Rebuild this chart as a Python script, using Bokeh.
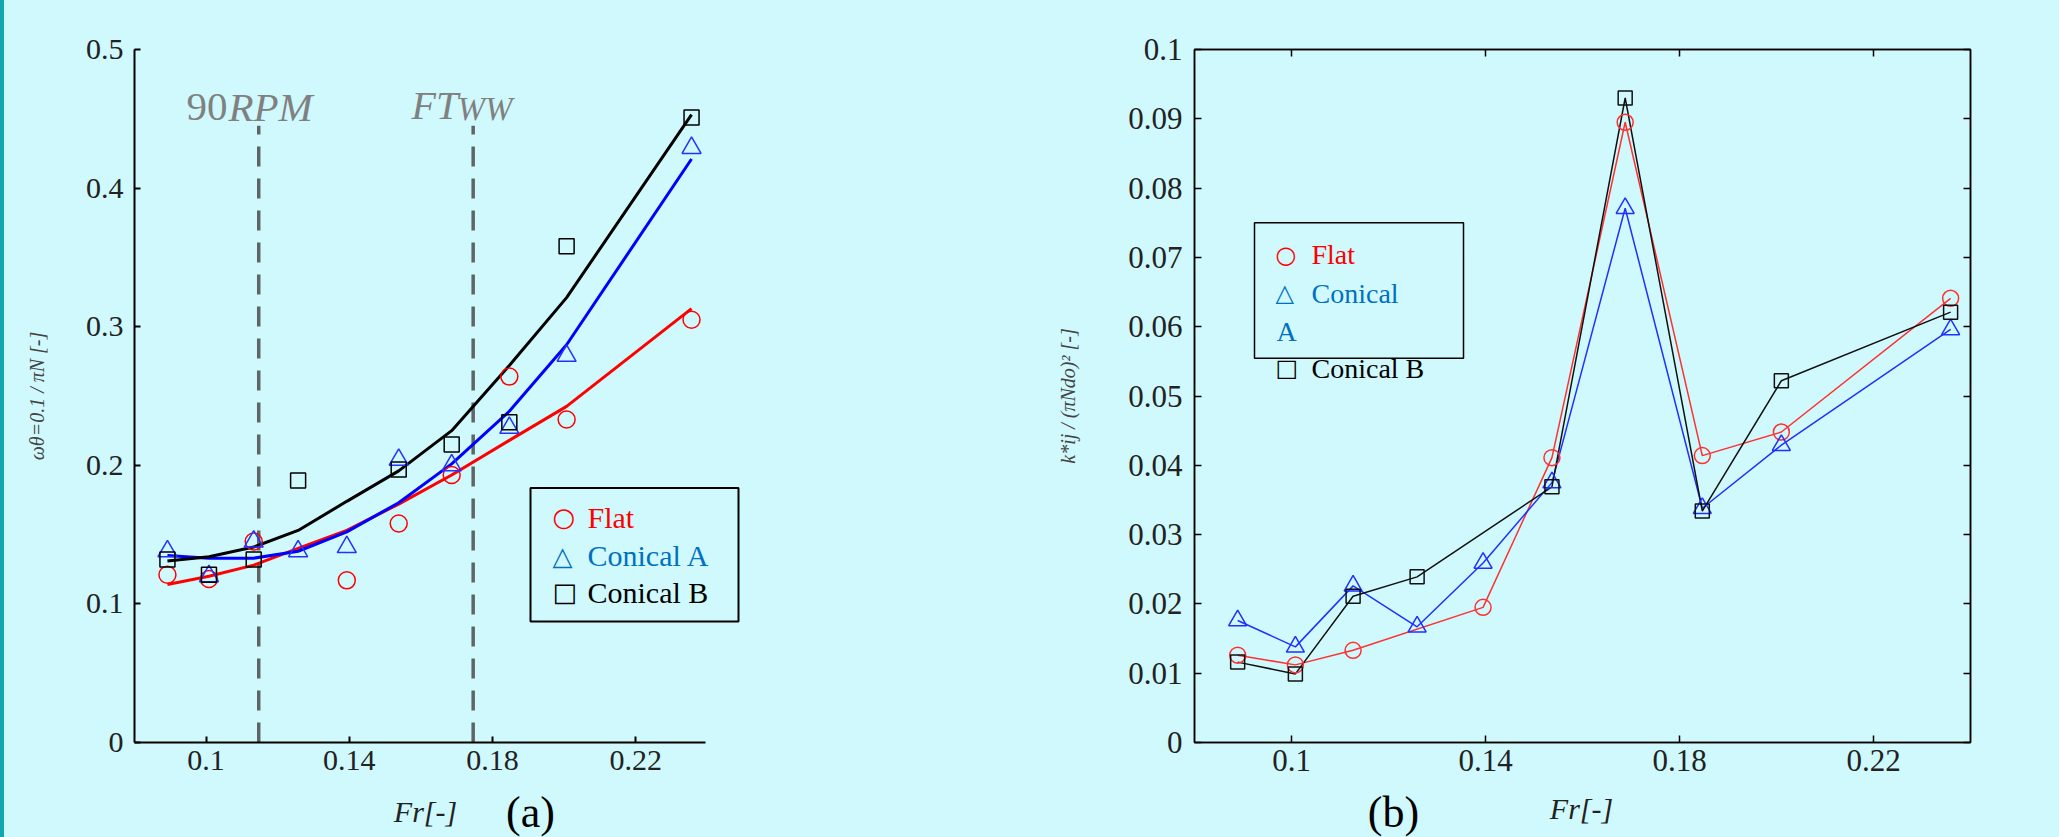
from bokeh.plotting import figure
from bokeh.models import (Range1d, FixedTicker, NumeralTickFormatter, LinearAxis,
                          Label, BoxAnnotation, Spacer, CustomJSTickFormatter)
from bokeh.layouts import row, column
from bokeh.embed import file_html
from bokeh.resources import INLINE

# ---------------- data ----------------
# panel (a): omega_theta=0.1 / (pi N) versus Froude number
fr_flat_a = [0.0892, 0.1008, 0.1133, 0.1393, 0.1538, 0.1686, 0.1847, 0.2007, 0.2356]
val_flat_a = [0.121, 0.118, 0.145, 0.117, 0.158, 0.193, 0.264, 0.233, 0.305]
fr_conA_a = [0.0892, 0.1008, 0.1133, 0.1257, 0.1393, 0.1538, 0.1686, 0.1847, 0.2007, 0.2356]
val_conA_a = [0.138, 0.120, 0.145, 0.138, 0.141, 0.204, 0.200, 0.227, 0.279, 0.429]
fr_conB_a = [0.0892, 0.1008, 0.1133, 0.1257, 0.1538, 0.1686, 0.1847, 0.2007, 0.2356]
val_conB_a = [0.132, 0.121, 0.132, 0.189, 0.197, 0.215, 0.231, 0.358, 0.451]
# fitted trend curves
fr_fit = [0.0892, 0.1008, 0.1133, 0.1257, 0.1393, 0.1538, 0.1686, 0.1847, 0.2007, 0.2356]
fit_flat = [0.114, 0.120, 0.128, 0.140, 0.153, 0.172, 0.193, 0.218, 0.2425, 0.313]
fit_conA = [0.135, 0.133, 0.133, 0.138, 0.152, 0.173, 0.201, 0.239, 0.287, 0.421]
fit_conB = [0.131, 0.134, 0.141, 0.153, 0.174, 0.196, 0.225, 0.272, 0.321, 0.453]
threshold_fr = [0.1147, 0.1746]
threshold_top = [0.445, 0.445]

# panel (b): k*_ij / (pi N d_o)^2 versus Froude number
fr_flat_b = [0.0889, 0.1008, 0.1127, 0.1395, 0.1537, 0.1688, 0.1847, 0.2010, 0.2359]
k_flat_b = [0.0126, 0.0112, 0.0133, 0.0195, 0.0411, 0.0895, 0.0414, 0.0448, 0.0641]
fr_conA_b = [0.0889, 0.1008, 0.1127, 0.1259, 0.1395, 0.1537, 0.1688, 0.1847, 0.2010, 0.2359]
k_conA_b = [0.0176, 0.0138, 0.0226, 0.0167, 0.0259, 0.0375, 0.0771, 0.0338, 0.0429, 0.0596]
fr_conB_b = [0.0889, 0.1008, 0.1127, 0.1259, 0.1537, 0.1688, 0.1847, 0.2010, 0.2359]
k_conB_b = [0.0116, 0.0099, 0.0211, 0.0239, 0.0369, 0.0930, 0.0334, 0.0522, 0.0621]

x_ticks = [0.1, 0.14, 0.18, 0.22]
y_ticks_a = [0, 0.1, 0.2, 0.3, 0.4, 0.5]
y_ticks_b = [0, 0.01, 0.02, 0.03, 0.04, 0.05, 0.06, 0.07, 0.08, 0.09, 0.1]

# ---------------- style ----------------
BG = "#D0F9FD"
STRIP = "#12A6B2"
SERIF = "Liberation Serif"
RED = "#FF0000"
BLUE = "#0000FF"
LEG_BLUE = "#0070C0"
GREY_TXT = "#808080"
H = 837
TOP_H = 787          # height of the two chart rows; below it a caption strip
CAP_H = H - TOP_H

# pixel -> data helpers for annotation placement (page pixels)
LW, L_LEFT, L_TOP = 996, 130, 37
L_PXU = 3580.0
def lx(px):
    return 0.08 + (px - 134) / L_PXU
def ly(py):
    return (742 - py) / 1410.0

RW, R_LEFT, R_FW, R_TOP = 1059, 194, 776, 49
R_PXU = R_FW / 0.16
def rx(px):
    return 0.08 + (px - 1194) / R_PXU
def ry(py):
    return (745 - py) / (696 / 0.1)

# ---------------- panel (a) ----------------
frame_w_a = LW - L_LEFT - 10
p1 = figure(width=LW, height=TOP_H, output_backend="svg", toolbar_location=None,
            x_range=Range1d(0.08, 0.08 + frame_w_a / L_PXU), y_range=Range1d(0, 0.5),
            min_border_left=L_LEFT, min_border_right=10, min_border_top=L_TOP,
            min_border_bottom=TOP_H - 742, background_fill_color=None, border_fill_color=BG,
            outline_line_color=None)
p1.grid.visible = False
for ax in (p1.xaxis[0], p1.yaxis[0]):
    ax.major_tick_in = 6
    ax.major_tick_out = 0
    ax.minor_tick_line_color = None
    ax.axis_line_width = 2
    ax.major_tick_line_width = 2
    ax.major_label_text_font = SERIF
    ax.major_label_text_font_size = "30px"
    ax.major_label_text_color = "#222222"
    ax.formatter = NumeralTickFormatter(format="0.[00]")
p1.xaxis.ticker = FixedTicker(ticks=x_ticks)
p1.xaxis.bounds = (0.08, 0.2396)
p1.xaxis.major_label_standoff = 8
p1.yaxis.ticker = FixedTicker(ticks=y_ticks_a)
p1.yaxis.major_label_standoff = 11
p1.yaxis.axis_label = "ωθ=0.1 / πN [-]"
p1.yaxis.axis_label_text_font = SERIF
p1.yaxis.axis_label_text_font_style = "italic"
p1.yaxis.axis_label_text_font_size = "20px"
p1.yaxis.axis_label_standoff = 35

# thresholds
p1.segment(x0=threshold_fr, y0=[0, 0], x1=threshold_fr, y1=threshold_top,
           line_color="#5F6464", line_width=3.5, line_dash="20 12")

# fits
p1.line(fr_fit, fit_flat, line_color=RED, line_width=3)
p1.line(fr_fit, fit_conA, line_color=BLUE, line_width=3)
p1.line(fr_fit, fit_conB, line_color="black", line_width=3)
# markers
p1.scatter(fr_flat_a, val_flat_a, marker="circle", size=17, fill_color=None,
           line_color=RED, line_width=1.5)
p1.scatter(fr_conA_a, val_conA_a, marker="triangle", size=19, fill_color=None,
           line_color="#2233FF", line_width=1.5)
p1.scatter(fr_conB_a, val_conB_a, marker="square", size=15, fill_color=None,
           line_color="black", line_width=1.5)

# threshold labels
p1.add_layout(Label(x=lx(186), y=ly(95), text="90", text_font=SERIF,
                    text_font_size="41px", text_color=GREY_TXT,
                    text_align="left", text_baseline="alphabetic"))
p1.add_layout(Label(x=lx(228), y=ly(95), text="RPM", text_font=SERIF,
                    text_font_style="italic", text_font_size="41px", text_color=GREY_TXT,
                    text_align="left", text_baseline="alphabetic"))
p1.add_layout(Label(x=lx(411), y=ly(94), text="FT", text_font=SERIF,
                    text_font_style="italic", text_font_size="40px", text_color=GREY_TXT,
                    text_align="left", text_baseline="alphabetic"))
p1.add_layout(Label(x=lx(457), y=ly(98), text="WW", text_font=SERIF,
                    text_font_style="italic", text_font_size="33px", text_color=GREY_TXT,
                    text_align="left", text_baseline="alphabetic"))

# legend (a)
p1.add_layout(BoxAnnotation(left=lx(530), right=lx(738), top=ly(483), bottom=ly(619),
                            fill_color=None, fill_alpha=0, line_color="black",
                            line_alpha=1, line_width=2))
leg_a = [("○", "Flat", RED, 513), ("△", "Conical A", LEG_BLUE, 552), ("□", "Conical B", "black", 589)]
for sym, txt, col, yy in leg_a:
    p1.add_layout(Label(x=lx(552), y=ly(yy), text=sym, text_font="DejaVu Sans",
                        text_font_size="26px", text_color=col, text_baseline="middle"))
    p1.add_layout(Label(x=lx(587), y=ly(yy), text=txt, text_font=SERIF,
                        text_font_size="30px", text_color=col, text_baseline="middle"))

# ---------------- panel (b) ----------------
p2 = figure(width=RW, height=TOP_H, output_backend="svg", toolbar_location=None,
            x_range=Range1d(0.08, 0.24), y_range=Range1d(0, 0.1),
            min_border_left=R_LEFT, min_border_right=RW - R_LEFT - R_FW,
            min_border_top=R_TOP, min_border_bottom=TOP_H - 745,
            background_fill_color=None, border_fill_color=BG,
            outline_line_color="black", outline_line_width=1.5)
p2.grid.visible = False
p2.add_layout(LinearAxis(), "above")
p2.add_layout(LinearAxis(), "right")
for ax in p2.axis:
    ax.major_tick_in = 7
    ax.major_tick_out = 0
    ax.minor_tick_line_color = None
    ax.axis_line_width = 1.5
    ax.major_tick_line_width = 1.5
    ax.major_label_text_font = SERIF
    ax.major_label_text_font_size = "31px"
    ax.major_label_text_color = "#222222"
for ax in (p2.above[0], p2.below[0]):
    ax.ticker = FixedTicker(ticks=x_ticks)
for ax in (p2.left[0], p2.right[0]):
    ax.ticker = FixedTicker(ticks=y_ticks_b)
p2.below[0].formatter = NumeralTickFormatter(format="0.[00]")
p2.left[0].formatter = NumeralTickFormatter(format="0.[00]")
p2.above[0].formatter = CustomJSTickFormatter(code="return ''")
p2.right[0].formatter = CustomJSTickFormatter(code="return ''")
p2.above[0].major_label_standoff = 0
p2.right[0].major_label_standoff = 0
p2.below[0].major_label_standoff = 7
p2.left[0].major_label_standoff = 12
p2.left[0].axis_label = "k*ij / (πNdo)² [-]"
p2.left[0].axis_label_text_font = SERIF
p2.left[0].axis_label_text_font_style = "italic"
p2.left[0].axis_label_text_font_size = "20px"
p2.left[0].axis_label_standoff = 46

p2.line(fr_flat_b, k_flat_b, line_color="#FF3030", line_width=1.5)
p2.line(fr_conA_b, k_conA_b, line_color="#2030FF", line_width=1.5)
p2.line(fr_conB_b, k_conB_b, line_color="#111111", line_width=1.5)
p2.scatter(fr_flat_b, k_flat_b, marker="circle", size=16, fill_color=None,
           line_color="#FF3030", line_width=1.5)
p2.scatter(fr_conA_b, k_conA_b, marker="triangle", size=18, fill_color=None,
           line_color="#2030FF", line_width=1.5)
p2.scatter(fr_conB_b, k_conB_b, marker="square", size=14, fill_color=None,
           line_color="#111111", line_width=1.5)

# legend (b)
p2.add_layout(BoxAnnotation(left=rx(1254), right=rx(1463), top=ry(223), bottom=ry(359),
                            fill_color=None, fill_alpha=0, line_color="black",
                            line_alpha=1, line_width=1.5))
leg_b = [("○", "Flat", RED, 255), ("△", "Conical", LEG_BLUE, 294), ("□", "Conical B", "black", 369)]
for sym, txt, col, yy in leg_b:
    p2.add_layout(Label(x=rx(1275), y=ry(yy), text=sym, text_font="DejaVu Sans",
                        text_font_size="24px", text_color=col, text_baseline="middle"))
    p2.add_layout(Label(x=rx(1311), y=ry(yy), text=txt, text_font=SERIF,
                        text_font_size="28px", text_color=col, text_baseline="middle"))
p2.add_layout(Label(x=rx(1276), y=ry(332), text="A", text_font=SERIF,
                    text_font_size="28px", text_color=LEG_BLUE, text_baseline="middle"))

# ---------------- caption strip (axis titles and panel tags) ----------------
CW = 2059 - 4
cap = figure(width=CW, height=CAP_H, output_backend="svg", toolbar_location=None,
             x_range=Range1d(0, CW), y_range=Range1d(0, CAP_H),
             x_axis_type=None, y_axis_type=None, min_border=0,
             background_fill_color=None, border_fill_color=BG, outline_line_color=None)
cap.grid.visible = False
def cx(px):
    return px - 4
def cy(py):
    return H - py

cap.add_layout(Label(x=cx(425), y=cy(811), text="Fr[-]", text_font=SERIF,
                     text_font_style="italic", text_font_size="30px", text_color="#222222",
                     text_align="center", text_baseline="middle"))
cap.add_layout(Label(x=cx(1581), y=cy(808), text="Fr[-]", text_font=SERIF,
                     text_font_style="italic", text_font_size="30px", text_color="#222222",
                     text_align="center", text_baseline="middle"))
cap.add_layout(Label(x=cx(530), y=cy(787), text="(a)", text_font=SERIF,
                     text_font_size="44px", text_color="black",
                     text_align="center", text_baseline="top"))
cap.add_layout(Label(x=cx(1393), y=cy(787), text="(b)", text_font=SERIF,
                     text_font_size="44px", text_color="black",
                     text_align="center", text_baseline="top"))

strip = Spacer(width=4, height=H, styles={"background-color": STRIP})
charts = row(p1, p2, spacing=0, styles={"background-color": BG})
right_side = column(charts, cap, spacing=0, styles={"background-color": BG})
layout = row(strip, right_side, spacing=0, styles={"background-color": BG})

with open("out.html", "w") as f:
    f.write(file_html(layout, INLINE))
